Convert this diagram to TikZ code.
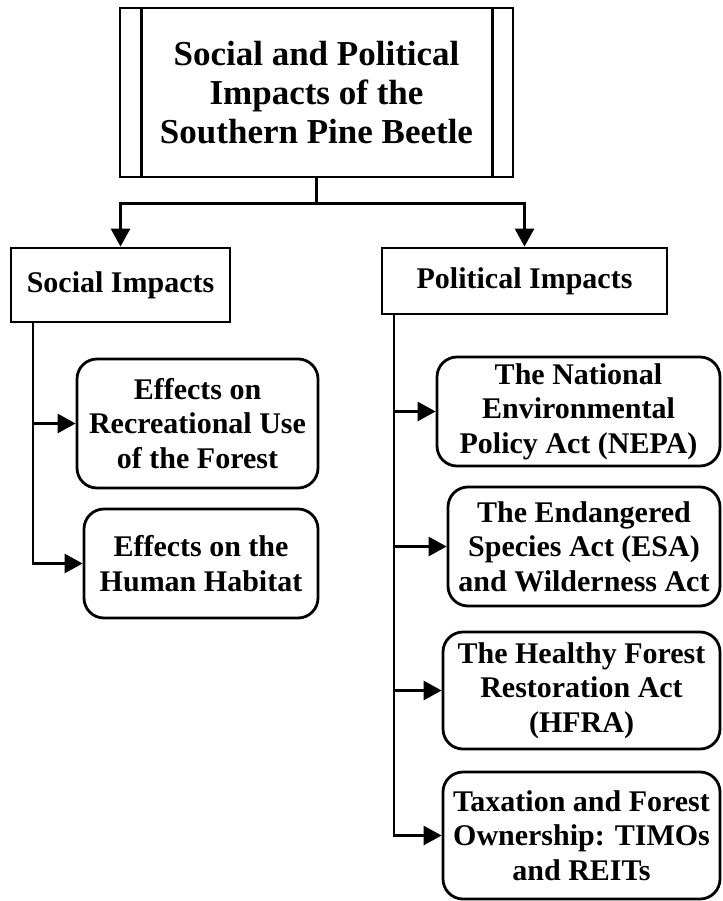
\documentclass[tikz,border=0pt]{standalone}
\usepackage{fontspec}
\setmainfont{Liberation Serif}
\usetikzlibrary{arrows.meta}
\begin{document}
\begin{tikzpicture}[x=1pt,y=-1pt,
  every node/.style={inner sep=0pt, align=center, font=\bfseries\fontsize{30}{34.5}\selectfont},
  sqbox/.style={draw, line width=2.8pt, rectangle},
  rbox/.style={draw, line width=2.8pt, rectangle, rounded corners=20pt},
  link/.style={line width=2.8pt},
  arr/.style={line width=2.8pt, -{Triangle[length=18pt,width=19pt]}}
]
\useasboundingbox (0,0) rectangle (722,901);
% title
\node[sqbox, minimum width=393pt, minimum height=169pt, font=\bfseries\fontsize{35}{39}\selectfont] (title) at (316.5,92.5)
  {Social and Political\\Impacts of the\\Southern Pine Beetle};
\draw[link] ([xshift=23pt]title.north west) -- ([xshift=23pt]title.south west);
\draw[link] ([xshift=-22pt]title.north east) -- ([xshift=-22pt]title.south east);
% level 1
\node[sqbox, minimum width=219pt, minimum height=74pt] (soc) at (120.5,285) {Social Impacts};
\node[sqbox, minimum width=285pt, minimum height=66pt] (pol) at (524.5,281) {Political Impacts};
% social children
\node[rbox, minimum width=241pt, minimum height=129pt] (rec) at (197.5,423.5) {Effects on\\Recreational Use\\of the Forest};
\node[rbox, minimum width=234pt, minimum height=109pt] (hab) at (201,563.5) {Effects on the\\Human Habitat};
% political children
\node[rbox, minimum width=283pt, minimum height=109pt] (nepa) at (578.5,411.5) {The National\\Environmental\\Policy Act (NEPA)};
\node[rbox, minimum width=272pt, minimum height=119pt] (esa) at (584,546.5) {The Endangered\\Species Act (ESA)\\and Wilderness Act};
\node[rbox, minimum width=277pt, minimum height=117pt] (hfra) at (581.5,690.5) {The Healthy Forest\\Restoration Act\\(HFRA)};
\node[rbox, minimum width=277pt, minimum height=127pt] (timo) at (581.5,835.5) {Taxation and Forest\\Ownership: TIMOs\\and REITs};
% connectors from title
\draw[link] (title.south) -- ++(0,25) coordinate (j);
\draw[arr] (j) -| (soc.north);
\draw[arr] (j) -| (pol.north);
% social branch
\coordinate (sv) at (33,0);
\draw[arr] (soc.south -| sv) |- (rec.west);
\draw[arr] (soc.south -| sv) |- (hab.west);
% political branch
\coordinate (pv) at (394,0);
\draw[arr] (pol.south -| pv) |- (nepa.west);
\draw[arr] (pol.south -| pv) |- (esa.west);
\draw[arr] (pol.south -| pv) |- (hfra.west);
\draw[arr] (pol.south -| pv) |- (timo.west);
\end{tikzpicture}
\end{document}
